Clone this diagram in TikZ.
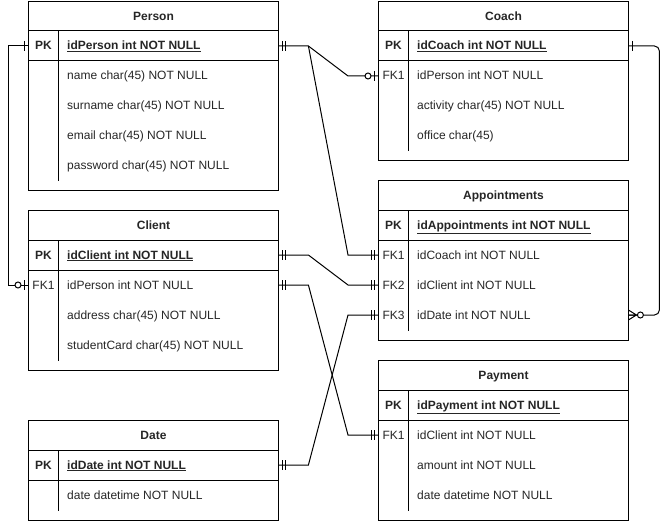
\documentclass[tikz,border=0pt]{standalone}
\usepackage{fontspec}
\setmainfont{Liberation Sans}
\usetikzlibrary{calc}
\tikzset{
  every node/.style={font=\fontsize{12pt}{14pt}\selectfont, text=black!85},
  tbl/.style={draw=black, line width=1pt, minimum width=250pt, inner sep=0pt, anchor=north west},
  ttl/.style={font=\fontsize{12pt}{14pt}\selectfont\bfseries, inner sep=0pt, anchor=base},
  rowbox/.style={minimum width=250pt, minimum height=30pt, inner sep=0pt, anchor=west},
  keytxt/.style={inner sep=0pt, anchor=base},
  fld/.style={inner sep=0pt, anchor=base west},
  rule/.style={line width=1pt, draw=black},
  conn/.style={line width=1pt, draw=black},
  pics/mandone/.style={code={\draw[conn] (4,-5) -- (4,5) (7,-5) -- (7,5);}},
  pics/onlyone/.style={code={\draw[conn] (4,-5) -- (4,5);}},
  pics/zeroone/.style={code={\draw[conn] (4,-5) -- (4,5); \draw[conn, fill=white] (10,0) circle[radius=3pt];}},
  pics/zeromany/.style={code={\draw[conn] (0,-5) -- (8,0) -- (0,5) (0,0) -- (8,0); \draw[conn, fill=white] (12,0) circle[radius=3pt];}},
}
\newcommand\ertable[6]{%
  \node[tbl, minimum height=#4pt] (#1) at (#2,#3) {};
  \node[ttl] (#1ttl) at ([yshift=-19.5pt]#1.north) {#5};
  \draw[rule] ([yshift=-30pt]#1.north west) -- ([yshift=-30pt]#1.north east);
  \draw[rule] ([yshift=-60pt]#1.north west) -- ([yshift=-60pt]#1.north east);
  \draw[rule] ([shift={(30pt,-30pt)}]#1.north west) -- ([shift={(30pt,#6pt)}]#1.south west);
}
\newcommand\errow[6]{%
  \node[rowbox] (#1#2) at (#3,#4) {};
  \node[keytxt] (#1#2k) at ([shift={(15.5pt,-4pt)}]#1#2.west) {#5};
  \node[fld] (#1#2t) at ([shift={(39pt,-4pt)}]#1#2.west) {#6};
}
\begin{document}
\begin{tikzpicture}[x=1pt,y=-1pt]
\useasboundingbox (0,0) rectangle (668,521);
% Person
\ertable{person}{28}{1}{189}{Person}{10}
\errow{person}{PK}{28}{46}{\textbf{PK}}{\textbf{\underline{idPerson int NOT NULL}}}
\errow{person}{A}{28}{76}{}{name char(45) NOT NULL}
\errow{person}{B}{28}{106}{}{surname char(45) NOT NULL}
\errow{person}{C}{28}{136}{}{email char(45) NOT NULL}
\errow{person}{D}{28}{166}{}{password char(45) NOT NULL}
% Client
\ertable{client}{28}{210}{160}{Client}{10}
\errow{client}{PK}{28}{255}{\textbf{PK}}{\textbf{\underline{idClient int NOT NULL}}}
\errow{client}{FK1}{28}{285}{FK1}{idPerson int NOT NULL}
\errow{client}{A}{28}{315}{}{address char(45) NOT NULL}
\errow{client}{B}{28}{345}{}{studentCard char(45) NOT NULL}
% Date
\ertable{date}{28}{420}{100}{Date}{10}
\errow{date}{PK}{28}{465}{\textbf{PK}}{\textbf{\underline{idDate int NOT NULL}}}
\errow{date}{A}{28}{495}{}{date datetime NOT NULL}
% Coach
\ertable{coach}{378}{1}{159}{Coach}{10}
\errow{coach}{PK}{378}{46}{\textbf{PK}}{\textbf{\underline{idCoach int NOT NULL}}}
\errow{coach}{FK1}{378}{76}{FK1}{idPerson int NOT NULL}
\errow{coach}{A}{378}{106}{}{activity char(45) NOT NULL}
\errow{coach}{B}{378}{136}{}{office char(45)}
% Appointments
\ertable{appt}{378}{180}{160}{Appointments}{10}
\errow{appt}{PK}{378}{225}{\textbf{PK}}{\textbf{\underline{idAppointments int NOT NULL}}}
\errow{appt}{FK1}{378}{255}{FK1}{idCoach int NOT NULL}
\errow{appt}{FK2}{378}{285}{FK2}{idClient int NOT NULL}
\errow{appt}{FK3}{378}{315}{FK3}{idDate int NOT NULL}
% Payment
\ertable{pay}{378}{360}{160}{Payment}{10}
\errow{pay}{PK}{378}{405}{\textbf{PK}}{\textbf{\underline{idPayment int NOT NULL}}}
\errow{pay}{FK1}{378}{435}{FK1}{idClient int NOT NULL}
\errow{pay}{A}{378}{465}{}{amount int NOT NULL}
\errow{pay}{B}{378}{495}{}{date datetime NOT NULL}
% connectors
\coordinate (jp) at ($(personPK.east)+(30,0)$);
\draw[conn] (personPK.east) -- (jp) -- ($(coachFK1.west)+(-30,0)$) -- (coachFK1.west);
\draw[conn] (jp) -- ($(apptFK1.west)+(-30,0)$) -- (apptFK1.west);
\draw[conn] (clientPK.east) -- ++(30,0) -- ($(apptFK2.west)+(-30,0)$) -- (apptFK2.west);
\draw[conn] (clientFK1.east) -- ++(30,0) -- ($(payFK1.west)+(-30,0)$) -- (payFK1.west);
\draw[conn] (datePK.east) -- ++(30,0) -- ($(apptFK3.west)+(-30,0)$) -- (apptFK3.west);
\draw[conn] (personPK.west) -- ++(-20,0) |- (clientFK1.west);
\draw[conn, rounded corners=5pt] (coachPK.east) -- ++(31,0) |- (apptFK3.east);
% end marks
\pic at (personPK.east) {mandone};
\pic at (clientPK.east) {mandone};
\pic at (clientFK1.east) {mandone};
\pic at (datePK.east) {mandone};
\pic[xscale=-1] at (apptFK1.west) {mandone};
\pic[xscale=-1] at (apptFK2.west) {mandone};
\pic[xscale=-1] at (apptFK3.west) {mandone};
\pic[xscale=-1] at (payFK1.west) {mandone};
\pic[xscale=-1] at (coachFK1.west) {zeroone};
\pic[xscale=-1] at (personPK.west) {onlyone};
\pic[xscale=-1] at (clientFK1.west) {zeroone};
\pic at (coachPK.east) {onlyone};
\pic at (apptFK3.east) {zeromany};
\end{tikzpicture}
\end{document}
